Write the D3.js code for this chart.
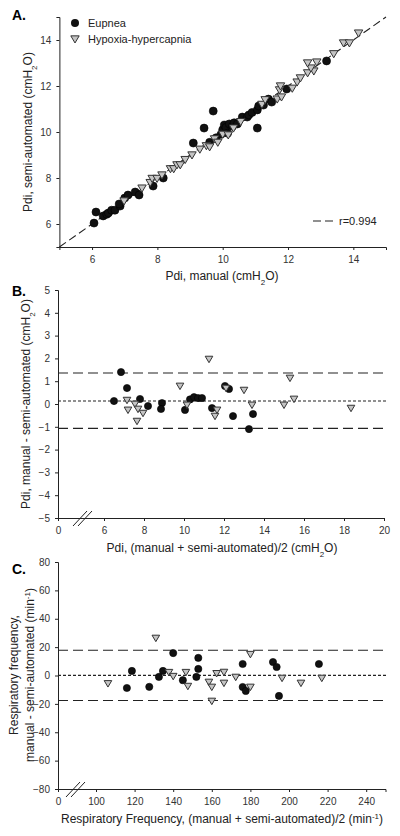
<!DOCTYPE html>
<html><head><meta charset="utf-8">
<script src="https://cdn.jsdelivr.net/npm/d3@7"></script>
<style>
body{margin:0;background:#fff;}
svg{display:block;font-family:"Liberation Sans",Arial,sans-serif;}
.tick text{font-size:10px;fill:#333;}
.domain,.tick line{stroke:#222;}
</style></head><body>
<svg id="c" width="400" height="836"></svg>
<script>
// ---------- Panel A data ----------
const aEupManual = [6.06,6.12,6.34,6.45,6.5,6.6,6.7,6.86,6.83,7.0,7.1,7.32,7.44,7.87,8.18,9.1,9.43,9.71,9.6,9.8,9.95,10.0,10.05,10.1,10.2,10.3,10.35,10.15,10.45,10.6,10.75,10.8,10.9,11.06,11.06,11.1,11.25,11.4,11.5,11.96,13.18];
const aEupSemi   = [6.04,6.52,6.35,6.42,6.48,6.6,6.6,6.78,6.87,7.13,7.26,7.39,7.26,7.65,8.0,9.52,10.17,10.91,9.55,9.75,9.9,10.1,10.3,10.2,10.35,10.25,10.4,9.95,10.35,10.65,10.65,10.74,10.85,10.96,10.17,11.13,11.17,11.43,11.3,11.87,13.09];
const aHypManual = [6.98,7.53,7.78,7.84,7.99,8.14,8.4,8.5,8.6,8.7,8.85,9.06,9.3,9.5,9.6,9.75,9.85,10.0,10.17,10.33,10.55,11.2,11.3,11.67,11.8,11.74,11.77,12.13,12.28,12.38,12.6,12.79,12.7,12.6,12.88,13.4,13.7,13.88,14.16];
const aHypSemi   = [7.0,7.56,7.8,7.98,7.98,8.13,8.4,8.4,8.57,8.57,8.8,9.0,9.25,9.4,9.35,9.7,9.55,9.9,9.87,10.17,10.45,11.2,11.4,11.43,11.52,11.83,12.0,11.9,12.17,12.35,12.57,12.65,12.78,13.0,13.04,13.4,13.87,13.87,14.3];
const aTicks = [6,8,10,12,14];
const rValue = "r=0.994";

// ---------- Panel B data ----------
const bEupMean = [6.5,6.85,7.15,7.8,8.2,8.9,8.85,10.05,10.3,10.5,10.7,10.9,11.4,12.05,12.25,12.45,13.25,13.45];
const bEupDiff = [0.13,1.4,0.7,0.22,-0.09,0.04,-0.22,-0.26,0.2,0.3,0.26,0.26,-0.18,0.79,0.66,-0.53,-1.1,-0.44];
const bHypMean = [7.15,7.2,7.55,7.7,7.95,7.65,9.8,10.15,11.25,11.55,11.65,12.1,13.0,13.4,15.0,15.3,15.5,18.35];
const bHypDiff = [0.17,-0.26,0.0,-0.22,-0.4,-0.75,0.79,-0.04,1.97,-0.53,-0.26,0.7,0.61,-0.04,-0.04,1.14,0.22,-0.18];
const bLimits = {upper:1.36, mean:0.13, lower:-1.07};
const bXTicks = [0,6,8,10,12,14,16,18,20];
const bYTicks = [-5,-4,-3,-2,-1,0,1,2,3,4,5];

// ---------- Panel C data ----------
const cEupMean = [116,118.6,127.6,132.6,134.7,140,145,152,153,153,176,176,177.6,191.7,193.6,194.8,215.5];
const cEupDiff = [-8.8,3.2,-8,-1,3.2,15.8,-3.3,-1,12.4,4.6,8.1,-8.1,-10.9,9.5,6,-14.4,8.1];
const cHypMean = [106.2,131,137.8,140,146.6,147.6,158.5,160,160,162.5,166.3,166.3,172.4,180,180,196.4,206.2,217];
const cHypDiff = [-5.6,26.4,2.3,-0.5,2.3,-7.5,-4.6,-8.1,-18,1.5,2.4,-5.3,-1.1,15,-8.1,-1.8,-5.3,-1.8];
const cLimits = {upper:17.8, mean:0.1, lower:-17.6};
const cXTicks = [0,100,120,140,160,180,200,220,240];
const cYTicks = [-80,-60,-40,-20,0,20,40,60,80];

const svg = d3.select("#c");
const triPath = s => `M${-s},${-s*0.75}L${s},${-s*0.75}L0,${s*0.95}Z`;

function drawAxes(x, y, xTicks, yTicks){
  const gx = svg.append("g").attr("transform",`translate(0,${y.range()[0]})`)
    .call(d3.axisBottom(x).tickValues(xTicks).tickSize(3).tickSizeOuter(3).tickPadding(6));
  const gy = svg.append("g").attr("transform",`translate(${x.range()[0]},0)`)
    .call(d3.axisLeft(y).tickValues(yTicks).tickSize(3).tickSizeOuter(3).tickPadding(5));
  return [gx,gy];
}
function points(x, y, xs, ys, kind, r){
  const g = svg.append("g");
  const data = xs.map((v,i)=>[v, ys[i]]);
  if(kind==="circle"){
    g.selectAll("circle").data(data).join("circle")
      .attr("cx",d=>x(d[0])).attr("cy",d=>y(d[1])).attr("r",r)
      .attr("fill","#111").attr("stroke","#000").attr("stroke-width",0.6);
  } else {
    g.selectAll("path").data(data).join("path")
      .attr("transform",d=>`translate(${x(d[0])},${y(d[1])})`)
      .attr("d",triPath(r))
      .attr("fill","#c4c4c4").attr("stroke","#333").attr("stroke-width",1);
  }
}
function hline(x, y, v, dash){
  svg.append("line").attr("x1",x.range()[0]).attr("x2",x.range()[x.range().length-1]+2)
    .attr("y1",y(v)).attr("y2",y(v)).attr("stroke","#222").attr("stroke-width",1.1)
    .attr("stroke-dasharray",dash);
}
function breakMark(x0, y0){
  [0,5].forEach(o=>{
    svg.append("line").attr("x1",x0+o-7).attr("y1",y0+8).attr("x2",x0+o+7).attr("y2",y0-7)
      .attr("stroke","#222").attr("stroke-width",1);
  });
}
function subText(sel, parts){
  parts.forEach(p=>{
    const t = sel.append("tspan").text(p.t);
    if(p.sub) t.attr("baseline-shift","sub").attr("font-size","8px");
  });
}

// ================= Panel A =================
const xA = d3.scaleLinear().domain([5,15]).range([59.4,386]);
const yA = d3.scaleLinear().domain([5,15]).range([247,17]);
svg.append("line").attr("x1",xA(5)).attr("y1",yA(5)).attr("x2",xA(15)).attr("y2",yA(15))
  .attr("stroke","#222").attr("stroke-width",1.1).attr("stroke-dasharray","8,4");
drawAxes(xA, yA, aTicks, aTicks);
points(xA, yA, aEupManual, aEupSemi, "circle", 4);
points(xA, yA, aHypManual, aHypSemi, "tri", 4.2);
// legend
svg.append("circle").attr("cx",75).attr("cy",23).attr("r",4).attr("fill","#111");
svg.append("path").attr("transform","translate(75,39)").attr("d",triPath(4.2))
  .attr("fill","#c4c4c4").attr("stroke","#333");
svg.append("text").attr("x",88).attr("y",27).attr("font-size",11).attr("fill","#222").text("Eupnea");
svg.append("text").attr("x",88).attr("y",43).attr("font-size",11).attr("fill","#222").text("Hypoxia-hypercapnia");
svg.append("line").attr("x1",313).attr("x2",334).attr("y1",221).attr("y2",221)
  .attr("stroke","#222").attr("stroke-width",1.1).attr("stroke-dasharray","8,4");
svg.append("text").attr("x",339).attr("y",225).attr("font-size",11).attr("fill","#222").text(rValue);
svg.append("text").attr("x",12).attr("y",20).attr("font-size",14).attr("font-weight","bold").text("A.");
subText(svg.append("text").attr("x",222).attr("y",280).attr("text-anchor","middle").attr("font-size",12).attr("fill","#222"),
  [{t:"Pdi, manual (cmH"},{t:"2",sub:true},{t:"O)"}]);
subText(svg.append("text").attr("transform","translate(32,132) rotate(-90)").attr("text-anchor","middle").attr("font-size",12).attr("fill","#222"),
  [{t:"Pdi, semi-automated (cmH"},{t:"2",sub:true},{t:"O)"}]);

// ================= Panel B =================
const xB = d3.scaleLinear().domain([0,6,20]).range([58,104,384]);
const yB = d3.scaleLinear().domain([-5,5]).range([518,290]);
drawAxes(xB, yB, bXTicks, bYTicks);
hline(xB, yB, bLimits.upper, "10,5");
hline(xB, yB, bLimits.lower, "10,5");
hline(xB, yB, bLimits.mean, "3,2");
breakMark(80, 518);
points(xB, yB, bEupMean, bEupDiff, "circle", 3.6);
points(xB, yB, bHypMean, bHypDiff, "tri", 3.8);
svg.append("text").attr("x",12).attr("y",296).attr("font-size",14).attr("font-weight","bold").text("B.");
subText(svg.append("text").attr("x",222).attr("y",552).attr("text-anchor","middle").attr("font-size",12).attr("fill","#222"),
  [{t:"Pdi, (manual + semi-automated)/2 (cmH"},{t:"2",sub:true},{t:"O)"}]);
subText(svg.append("text").attr("transform","translate(30,404) rotate(-90)").attr("text-anchor","middle").attr("font-size",12).attr("fill","#222"),
  [{t:"Pdi, manual - semi-automated (cmH"},{t:"2",sub:true},{t:"O)"}]);

// ================= Panel C =================
const xC = d3.scaleLinear().domain([0,100,250]).range([58,96,385.5]);
const yC = d3.scaleLinear().domain([-80,80]).range([789,562]);
drawAxes(xC, yC, cXTicks, cYTicks);
hline(xC, yC, cLimits.upper, "10,5");
hline(xC, yC, cLimits.lower, "10,5");
hline(xC, yC, cLimits.mean, "3,2");
breakMark(73, 789);
points(xC, yC, cEupMean, cEupDiff, "circle", 3.6);
points(xC, yC, cHypMean, cHypDiff, "tri", 3.8);
svg.append("text").attr("x",12).attr("y",574).attr("font-size",14).attr("font-weight","bold").text("C.");
const cx = svg.append("text").attr("x",222).attr("y",823).attr("text-anchor","middle").attr("font-size",12).attr("fill","#222");
cx.append("tspan").text("Respiratory Frequency, (manual + semi-automated)/2 (min");
cx.append("tspan").text("-1").attr("baseline-shift","super").attr("font-size","8px");
cx.append("tspan").text(")");
svg.append("text").attr("transform","translate(18,675) rotate(-90)").attr("text-anchor","middle").attr("font-size",12).attr("fill","#222")
  .text("Respiratory frequency,");
const cy2 = svg.append("text").attr("transform","translate(34,675) rotate(-90)").attr("text-anchor","middle").attr("font-size",12).attr("fill","#222");
cy2.append("tspan").text("manual - semi-automated (min");
cy2.append("tspan").text("-1").attr("baseline-shift","super").attr("font-size","8px");
cy2.append("tspan").text(")");
</script></body></html>
